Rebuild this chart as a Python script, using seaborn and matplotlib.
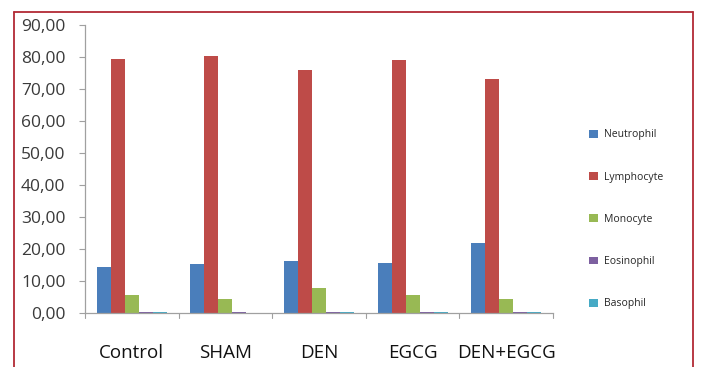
import matplotlib
matplotlib.use("Agg")
import matplotlib.pyplot as plt
from matplotlib.lines import Line2D
import seaborn as sns
import pandas as pd

groups = ["Control", "SHAM", "DEN", "EGCG", "DEN+EGCG"]
cell_types = ["Neutrophil", "Lymphocyte", "Monocyte", "Eosinophil", "Basophil"]
neutrophil = [14.5, 15.2, 16.3, 15.5, 21.8]
lymphocyte = [79.5, 80.4, 75.8, 79.2, 73.2]
monocyte = [5.6, 4.5, 7.9, 5.6, 4.5]
eosinophil = [0.4, 0.2, 0.4, 0.3, 0.4]
basophil = [0.3, 0.1, 0.2, 0.2, 0.3]
y_ticks = [0, 10, 20, 30, 40, 50, 60, 70, 80, 90]

palette = ["#4a7ebb", "#be4b48", "#98b954", "#7d60a0", "#46aac5"]

series = [neutrophil, lymphocyte, monocyte, eosinophil, basophil]
df = pd.DataFrame(
    [(g, c, v) for c, vals in zip(cell_types, series) for g, v in zip(groups, vals)],
    columns=["group", "cell", "value"],
)

sns.set_theme(style="white")
plt.rcParams["font.family"] = ["Open Sans", "DejaVu Sans"]

fig = plt.figure(figsize=(7.03, 3.67), dpi=100)
ax = fig.add_axes([85 / 703, 1 - 313 / 367, (553 - 85) / 703, (313 - 25) / 367])

sns.barplot(data=df, x="group", y="value", hue="cell", order=groups,
            hue_order=cell_types, palette=palette, width=0.75,
            saturation=1, linewidth=0, ax=ax, legend=True)

ax.set_ylim(0, 90)
ax.set_xlim(-0.5, len(groups) - 0.5)
ax.set_yticks(y_ticks)
ax.set_yticklabels([f"{t:.2f}".replace(".", ",") for t in y_ticks],
                   fontsize=12.5, color="#3a3a3a")
ax.set_xlabel("")
ax.set_ylabel("")
ax.set_xticks(range(len(groups)))
ax.set_xticklabels(groups, fontsize=13.5, color="#111111")
ax.tick_params(axis="x", length=0, pad=22)
ax.tick_params(axis="y", length=4, width=0.8, color="#a0a0a0", pad=10, left=True)

# category separators on the x-axis
for b in [i - 0.5 for i in range(len(groups) + 1)]:
    ax.plot([b, b], [0, -1.5], color="#a0a0a0", lw=0.8, clip_on=False)

for side in ["top", "right"]:
    ax.spines[side].set_visible(False)
for side in ["left", "bottom"]:
    ax.spines[side].set_color("#a0a0a0")
    ax.spines[side].set_linewidth(0.9)

leg = ax.legend(loc="upper left", bbox_to_anchor=(580 / 703, 1 - 120 / 367),
                bbox_transform=fig.transFigure, frameon=False, fontsize=7.5,
                handlelength=0.8, handleheight=0.8, labelspacing=3.0,
                handletextpad=0.6)

# outer frame (open at the bottom)
frame_color = "#b22a35"
x0, x1, yt = 13.5 / 703, 692.5 / 703, 1 - 12 / 367
fig.add_artist(Line2D([x0, x0], [0, yt], transform=fig.transFigure, color=frame_color, lw=1.3))
fig.add_artist(Line2D([x1, x1], [0, yt], transform=fig.transFigure, color=frame_color, lw=1.3))
fig.add_artist(Line2D([x0, x1], [yt, yt], transform=fig.transFigure, color=frame_color, lw=1.3))

fig.savefig("out.png", dpi=100)
